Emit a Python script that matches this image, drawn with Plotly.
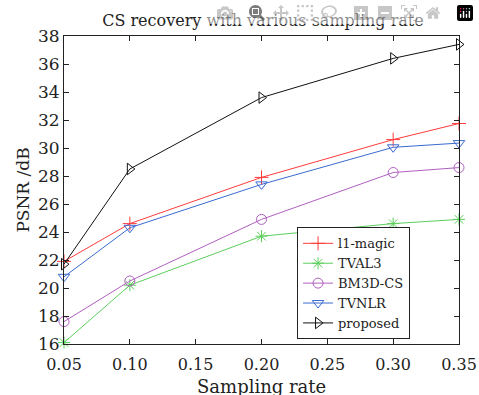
import plotly.graph_objects as go

rates = [0.05, 0.10, 0.20, 0.30, 0.35]
l1_magic = [21.9, 24.6, 27.9, 30.6, 31.75]
tval3 = [16.1, 20.2, 23.7, 24.6, 24.9]
bm3d_cs = [17.6, 20.5, 24.9, 28.25, 28.6]
tvnlr = [20.8, 24.3, 27.4, 30.05, 30.35]
proposed = [21.7, 28.5, 33.6, 36.4, 37.4]

x_ticks = [0.05, 0.10, 0.15, 0.20, 0.25, 0.30, 0.35]
x_tick_labels = ["0.05", "0.10", "0.15", "0.20", "0.25", "0.30", "0.35"]
y_ticks = list(range(16, 39, 2))

series = [
    ("l1-magic", l1_magic, "#ff3b3b", "cross-thin-open"),
    ("TVAL3", tval3, "#5ccf5c", "asterisk-open"),
    ("BM3D-CS", bm3d_cs, "#b060c0", "circle-open"),
    ("TVNLR", tvnlr, "#3a6ad0", "triangle-down-open"),
    ("proposed", proposed, "#111111", "triangle-right-open"),
]

FONT = "DejaVu Serif, serif"
TXT = "#222222"
fig = go.Figure()
for name, vals, color, sym in series:
    fig.add_trace(go.Scatter(
        x=rates, y=vals, name=name, mode="lines+markers",
        line=dict(color=color, width=1),
        marker=dict(symbol=sym, size=10, color=color, line=dict(color=color, width=1)),
        cliponaxis=False,
    ))

fig.update_layout(
    width=479, height=395,
    margin=dict(l=64, r=20, t=36, b=51, autoexpand=False),
    paper_bgcolor="white", plot_bgcolor="white",
    font=dict(family=FONT, color=TXT),
    title=dict(text="CS recovery with various sampling rate", x=0.549, xanchor="center",
               y=0.949, yanchor="middle", font=dict(size=16, family=FONT, color=TXT)),
    legend=dict(x=0.59, xanchor="left", y=0.015, yanchor="bottom",
                bordercolor=TXT, borderwidth=1, bgcolor="white",
                font=dict(size=13, family=FONT, color=TXT),
                tracegroupgap=0, itemwidth=30),
    showlegend=True,
    annotations=[dict(text="Sampling rate", xref="paper", yref="paper", x=0.5, y=-0.137,
                      xanchor="center", yanchor="middle", showarrow=False,
                      font=dict(size=18, family=FONT, color=TXT))],
)
fig.update_xaxes(
    range=[0.05, 0.35], tickvals=x_ticks, ticktext=x_tick_labels,
    ticks="inside", ticklen=5, tickcolor=TXT, ticklabelstandoff=6,
    ticklabeloverflow="allow",
    showline=True, linecolor=TXT, linewidth=1, mirror="ticks",
    showgrid=False, zeroline=False, automargin=False,
    tickfont=dict(size=16, family=FONT, color=TXT),
)
fig.update_yaxes(
    range=[16, 38], tickvals=y_ticks,
    ticks="inside", ticklen=5, tickcolor=TXT,
    ticklabeloverflow="allow",
    showline=True, linecolor=TXT, linewidth=1, mirror="ticks",
    showgrid=False, zeroline=False, automargin=False,
    tickfont=dict(size=17, family=FONT, color=TXT),
    title=dict(text="PSNR /dB", font=dict(size=17, family=FONT, color=TXT), standoff=4),
)

fig.write_html(
    "out.html",
    post_script="document.body.style.margin='0';document.body.style.overflow='hidden';",
)
